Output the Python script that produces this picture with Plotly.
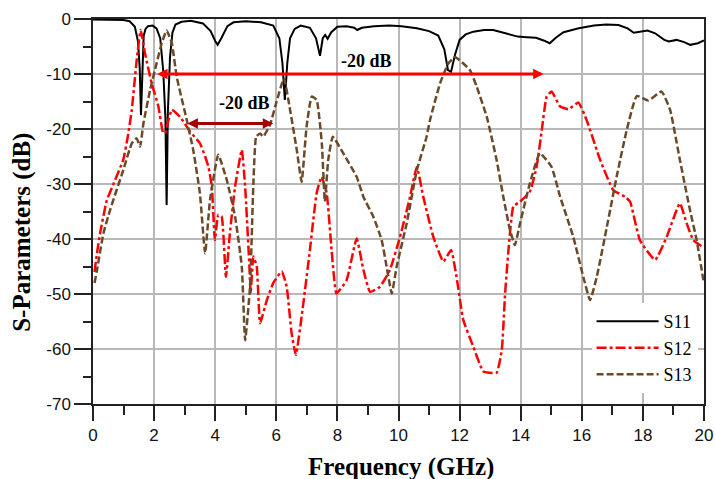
import plotly.graph_objects as go

# ---- data ----
s11_f = [0.0, 0.5, 1.0, 1.2, 1.37, 1.47, 1.53, 1.57, 1.61, 1.66, 1.72, 1.8, 1.95, 2.08, 2.2, 2.3,
         2.37, 2.41, 2.45, 2.52, 2.6, 2.7, 2.9, 3.2, 3.6, 3.85, 4.0, 4.08, 4.2, 4.4, 4.6, 5.0,
         5.5, 5.9, 6.1, 6.2, 6.28, 6.36, 6.45, 6.6, 6.8, 7.1, 7.3, 7.43, 7.52, 7.6, 7.68, 7.8,
         8.0, 8.3, 8.55, 8.65, 8.8, 9.2, 9.7, 10.1, 10.6, 11.0, 11.3, 11.5, 11.62, 11.72, 11.85,
         12.0, 12.2, 12.45, 12.8, 13.1, 13.5, 13.9, 14.2, 14.5, 14.75, 14.95, 15.15, 15.4, 15.9,
         16.4, 16.8, 17.2, 17.5, 17.7, 17.9, 18.15, 18.4, 18.7, 18.85, 19.1, 19.35, 19.55, 19.8, 20.0]
s11_db = [-0.1, -0.15, -0.2, -0.4, -1.4, -4.0, -9.0, -17.5, -9.0, -3.0, -1.8, -1.3, -1.2, -1.7, -3.5, -9.5,
          -18.0, -33.8, -17.0, -7.0, -2.5, -1.0, -0.5, -0.3, -0.8, -2.2, -4.0, -4.7, -3.5, -1.3, -0.6, -0.4,
          -0.6, -1.2, -3.5, -8.0, -14.7, -8.0, -3.5, -1.8, -1.2, -1.6, -3.5, -6.7, -3.5, -2.9, -3.6, -2.4,
          -1.4, -1.3, -1.6, -2.0, -1.6, -1.3, -1.2, -1.3, -1.7, -2.2, -3.0, -5.5, -9.3, -9.6, -6.5,
          -3.8, -2.8, -2.3, -2.0, -2.0, -2.6, -3.2, -3.3, -3.4, -3.9, -4.4, -3.4, -2.4, -1.7,
          -1.2, -1.0, -1.1, -1.7, -2.5, -2.3, -2.1, -2.6, -3.8, -4.1, -3.8, -4.2, -4.7, -4.4, -3.9]

s12_f = [0.05, 0.12, 0.23, 0.45, 0.7, 0.99, 1.15, 1.27, 1.43, 1.56, 1.70, 1.92, 2.14, 2.30, 2.38, 2.47,
         2.58, 2.85, 3.18, 3.50, 3.67, 3.78, 3.89, 3.99, 4.10, 4.21, 4.35, 4.48, 4.65, 4.87, 4.98,
         5.12, 5.16, 5.25, 5.36, 5.47, 5.69, 5.90, 6.18, 6.34, 6.50, 6.64, 6.83, 7.10, 7.32, 7.48,
         7.65, 7.81, 7.97, 8.30, 8.63, 8.85, 9.07, 9.39, 9.72, 10.05, 10.38, 10.6, 10.81, 11.14,
         11.47, 11.72, 11.90, 12.12, 12.45, 12.78, 13.21, 13.38, 13.49, 13.6, 13.76, 13.98, 14.3,
         14.52, 14.69, 14.85, 15.01, 15.29, 15.56, 15.89, 16.16, 16.6, 17.03, 17.41, 17.58, 17.9,
         18.4, 18.78, 19.21, 19.43, 19.65, 19.95]
s12_db = [-46.0, -43.0, -39.0, -33.0, -29.6, -25.6, -21.0, -16.5, -7.5, -2.0, -6.2, -11.7, -15.9, -20.8, -20.5, -18.4,
          -16.5, -17.8, -20.5, -22.6, -25.0, -26.9, -30.5, -40.2, -35.6, -35.9, -46.9, -39.0, -30.5, -23.8, -30.5,
          -45.0, -49.9, -43.2, -45.0, -55.3, -51.1, -48.0, -45.9, -48.7, -57.1, -61.1, -54.1, -42.0, -31.7, -28.7,
          -31.7, -42.0, -49.9, -47.5, -39.9, -45.6, -49.6, -48.7, -45.6, -39.6, -32.3, -26.9, -32.3, -39.6,
          -44.1, -42.0, -46.9, -54.7, -59.6, -64.1, -64.3, -60.2, -49.9, -42.0, -34.1, -33.2, -31.4,
          -26.9, -20.2, -14.1, -13.2, -15.9, -16.4, -15.2, -18.4, -25.6, -31.1, -32.3, -33.2, -40.2,
          -43.8, -39.6, -33.5, -37.1, -40.2, -41.4]

s13_f = [0.05, 0.12, 0.34, 0.56, 0.99, 1.27, 1.43, 1.54, 1.65, 1.87, 2.08, 2.25, 2.41, 2.58, 2.74,
         3.07, 3.28, 3.50, 3.67, 3.83, 4.10, 4.38, 4.65, 4.87, 4.98, 5.14, 5.25, 5.34, 5.47, 5.57,
         5.79, 6.01, 6.25, 6.45, 6.67, 6.83, 6.99, 7.16, 7.32, 7.49, 7.59, 7.70, 7.85, 8.19, 8.63,
         8.85, 9.18, 9.45, 9.61, 9.78, 9.94, 10.27, 10.6, 10.92, 11.03, 11.36, 11.63, 11.85, 12.34,
         12.56, 12.89, 13.21, 13.43, 13.65, 13.81, 13.98, 14.3, 14.63, 15.01, 15.29, 15.72, 16.05,
         16.27, 16.49, 16.82, 17.14, 17.47, 17.8, 18.18, 18.61, 18.89, 19.21, 19.54, 19.76, 19.98]
s13_db = [-48.0, -46.0, -39.0, -34.7, -27.5, -22.6, -21.7, -23.2, -19.0, -12.9, -8.1, -4.4, -2.1, -4.4, -10.5,
          -18.4, -23.8, -31.7, -42.6, -32.9, -24.7, -29.3, -35.9, -45.0, -58.4, -48.7, -29.9, -21.4, -20.8, -21.4,
          -19.3, -15.0, -10.8, -16.5, -23.8, -29.6, -19.6, -14.1, -14.7, -22.6, -33.2, -25.6, -21.4, -24.4, -28.7,
          -32.3, -36.0, -40.2, -45.0, -49.9, -45.0, -37.1, -27.5, -21.4, -18.4, -11.7, -8.1, -6.9, -9.3,
          -12.3, -17.8, -25.6, -32.3, -38.4, -41.1, -37.1, -29.9, -24.4, -26.9, -32.3, -39.6, -46.9,
          -51.1, -46.9, -37.8, -28.7, -20.2, -14.0, -14.8, -13.2, -16.5, -25.6, -34.7, -40.2, -47.5]

x_ticks = [0, 2, 4, 6, 8, 10, 12, 14, 16, 18, 20]
y_ticks = [0, -10, -20, -30, -40, -50, -60, -70]

# annotation arrows: (start f, end f, level dB, label f, label dB)
wide_span = [2.05, 14.75]
wide_level = -10
wide_label = [8.96, -7.6]
narrow_span = [3.04, 5.9]
narrow_level = -19
narrow_label = [4.97, -15.2]

fig = go.Figure()
fig.add_trace(go.Scatter(x=s11_f, y=s11_db, name="S11", mode="lines",
                         line=dict(color="#000000", width=2)))
fig.add_trace(go.Scatter(x=s12_f, y=s12_db, name="S12", mode="lines",
                         line=dict(color="#FF0000", width=2.5, dash="10px,3px,3px,3px",
                                   shape="spline", smoothing=0.4)))
fig.add_trace(go.Scatter(x=s13_f, y=s13_db, name="S13", mode="lines",
                         line=dict(color="#6B4A2A", width=2.5, dash="7px,3px",
                                   shape="spline", smoothing=0.4)))

serif = "Liberation Serif, Times New Roman, serif"
sans = "Liberation Sans, Arial, sans-serif"

# arrows
fig.add_annotation(x=wide_span[1], y=wide_level, ax=wide_span[0], ay=wide_level,
                   xref="x", yref="y", axref="x", ayref="y", text="", showarrow=True,
                   arrowside="end+start", arrowhead=2, arrowsize=0.7, arrowwidth=3,
                   arrowcolor="#FF0000", standoff=0, startstandoff=0)
fig.add_annotation(x=narrow_span[1], y=narrow_level, ax=narrow_span[0], ay=narrow_level,
                   xref="x", yref="y", axref="x", ayref="y", text="", showarrow=True,
                   arrowside="end+start", arrowhead=2, arrowsize=0.7, arrowwidth=3,
                   arrowcolor="#A50000", standoff=0, startstandoff=0)
fig.add_annotation(x=wide_label[0], y=wide_label[1], text="<b>-20 dB</b>", showarrow=False,
                   font=dict(family=serif, size=18, color="#000000"))
fig.add_annotation(x=narrow_label[0], y=narrow_label[1], text="<b>-20 dB</b>", showarrow=False,
                   font=dict(family=serif, size=18, color="#000000"))

# axis titles
fig.add_annotation(xref="paper", yref="paper", x=0.504, y=-0.164, text="<b>Frequency (GHz)</b>",
                   showarrow=False, xanchor="center", yanchor="middle",
                   font=dict(family=serif, size=25, color="#000000"))
fig.add_annotation(xref="paper", yref="paper", x=-0.116, y=0.445, text="<b>S-Parameters (dB)</b>",
                   showarrow=False, xanchor="center", yanchor="middle", textangle=-90,
                   font=dict(family=serif, size=25, color="#000000"))

fig.update_layout(
    width=715, height=479,
    margin=dict(l=93, r=11, t=19, b=75, autoexpand=False),
    paper_bgcolor="white", plot_bgcolor="white",
    hovermode=False,
    showlegend=True,
    legend=dict(x=0.816, y=0.262, xanchor="left", yanchor="top", bgcolor="white",
                borderwidth=0, itemwidth=62,
                font=dict(family=serif, size=18, color="#000000")),
    xaxis=dict(range=[0, 20], tickvals=x_ticks, ticktext=[str(v) for v in x_ticks],
               automargin=False, ticklabeloverflow="allow",
               showgrid=True, gridcolor="#b8b8b8", gridwidth=1.5,
               showline=True, linecolor="#222222", linewidth=1.5, mirror=True,
               ticks="outside", ticklen=15, tickwidth=1.5, tickcolor="#222222",
               minor=dict(dtick=1, tick0=0, ticks="outside", ticklen=9, tickwidth=1.5,
                          tickcolor="#222222", showgrid=False),
               tickfont=dict(family=sans, size=17, color="#111111"), zeroline=False),
    yaxis=dict(range=[-70, 0], tickvals=y_ticks, ticktext=[str(v) for v in y_ticks],
               automargin=False,
               showgrid=True, gridcolor="#b8b8b8", gridwidth=1.5,
               showline=True, linecolor="#222222", linewidth=1.5, mirror=True,
               ticks="outside", ticklen=17, tickwidth=1.5, tickcolor="#222222",
               minor=dict(dtick=5, tick0=0, ticks="outside", ticklen=8, tickwidth=1.5,
                          tickcolor="#222222", showgrid=False),
               tickfont=dict(family=sans, size=17, color="#111111"), zeroline=False),
)

# the page's default 8px body margin would shift the 715x479 figure; remove it
fig.write_html("out.html", config={"displayModeBar": False},
               post_script="document.body.style.margin='0';")
